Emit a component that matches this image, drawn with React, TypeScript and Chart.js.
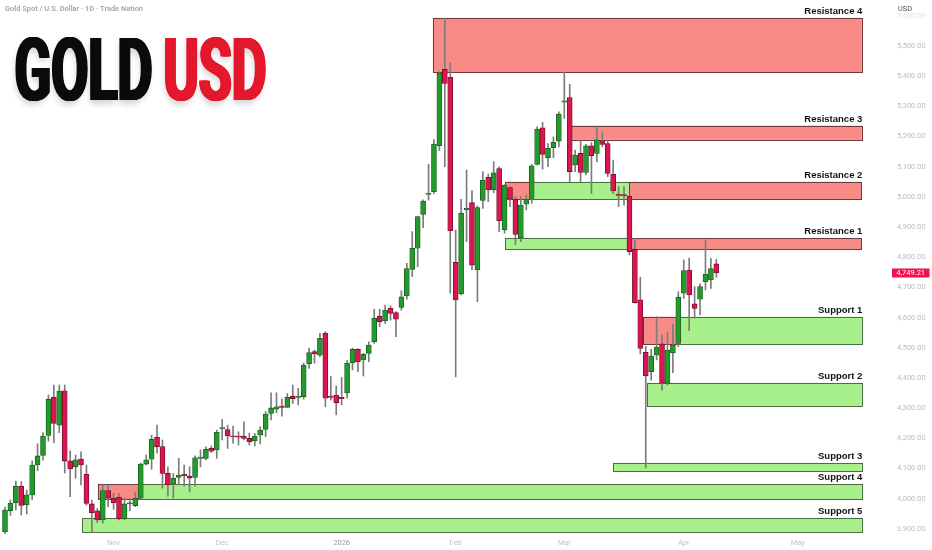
import { useEffect, useRef } from 'react';
import { Chart, registerables } from 'chart.js';

Chart.register(...registerables);

// ---- Daily OHLC (bar index 0 = first visible session, early Oct 2025) ----
const opens = [
  3890, 3961, 3987, 4042, 3980, 4013, 4112, 4144, 4210, 4336, 4244, 4358, 4126, 4106, 4132, 4081, 3983, 3960, 3930, 4027,
  4002, 4005, 3933, 3985, 3977, 4002, 4115, 4131, 4204, 4173, 4084, 4049, 4071, 4079, 4075, 4071, 4134, 4134, 4167, 4162,
  4232, 4229, 4208, 4206, 4208, 4200, 4192, 4211, 4230, 4283, 4297, 4307, 4303, 4340, 4336, 4338, 4447, 4488, 4476, 4548,
  4340, 4344, 4334, 4351, 4451, 4495, 4460, 4482, 4520, 4605, 4590, 4631, 4617, 4634, 4672, 4760, 4830, 4942, 5008, 5017,
  5170, 5423, 5396, 4783, 4679, 4958, 4981, 4759, 4988, 5065, 5024, 5094, 4891, 5031, 4993, 4865, 4976, 4995, 5108, 5229,
  5130, 5163, 5185, 5314, 5329, 5106, 5144, 5081, 5169, 5144, 5185, 5177, 5075, 5007, 5008, 5003, 4826, 4659, 4485, 4421,
  4476, 4513, 4383, 4484, 4515, 4681, 4758, 4646, 4661, 4719, 4725, 4778,
];
const highs = [
  3973, 3996, 4059, 4057, 4029, 4126, 4182, 4219, 4344, 4377, 4377, 4377, 4159, 4145, 4156, 4112, 3996, 3968, 4046, 4046,
  4018, 4018, 4002, 4002, 4023, 4118, 4145, 4211, 4244, 4195, 4106, 4084, 4134, 4112, 4106, 4142, 4162, 4172, 4175, 4228,
  4263, 4244, 4241, 4222, 4255, 4217, 4217, 4239, 4289, 4351, 4351, 4330, 4349, 4377, 4366, 4450, 4499, 4493, 4548, 4554,
  4405, 4374, 4402, 4458, 4499, 4498, 4482, 4520, 4628, 4628, 4642, 4639, 4620, 4689, 4780, 4885, 4935, 4990, 5108, 5190,
  5415, 5592, 5444, 4890, 4992, 5089, 5021, 4970, 5084, 5076, 5117, 5100, 5040, 5034, 5001, 5001, 5006, 5108, 5232, 5247,
  5177, 5199, 5282, 5414, 5373, 5155, 5189, 5174, 5180, 5232, 5216, 5185, 5122, 5034, 5034, 5006, 4863, 4734, 4505, 4495,
  4603, 4543, 4553, 4579, 4686, 4791, 4797, 4703, 4712, 4857, 4797, 4793,
];
const lows = [
  3885, 3945, 3963, 3946, 3950, 3996, 4093, 4128, 4191, 4186, 4219, 4085, 4007, 4068, 4046, 3979, 3889, 3921, 3919, 3974,
  3965, 3930, 3930, 3961, 3974, 3999, 4112, 4098, 4151, 4035, 4009, 4002, 4046, 4042, 4023, 4042, 4106, 4129, 4153, 4134,
  4195, 4167, 4184, 4178, 4195, 4178, 4175, 4182, 4206, 4261, 4285, 4274, 4303, 4316, 4311, 4330, 4432, 4449, 4471, 4305,
  4327, 4278, 4311, 4333, 4427, 4421, 4407, 4454, 4515, 4570, 4581, 4592, 4537, 4625, 4661, 4736, 4769, 4898, 4990, 5011,
  5153, 5100, 4681, 4404, 4675, 4852, 4759, 4653, 4962, 4984, 5014, 4885, 4880, 4968, 4841, 4852, 4957, 4979, 5106, 5092,
  5100, 5130, 5166, 5260, 5050, 5084, 5050, 5073, 5011, 5116, 5166, 5067, 5011, 4968, 4973, 4808, 4648, 4480, 4102, 4393,
  4460, 4360, 4377, 4418, 4504, 4664, 4557, 4598, 4609, 4692, 4697, 4734,
];
const closes = [
  3963, 3985, 4042, 3978, 4013, 4112, 4142, 4208, 4330, 4250, 4357, 4125, 4099, 4129, 4112, 3985, 3954, 3930, 4027, 4002,
  3987, 3933, 3983, 3983, 4002, 4115, 4129, 4197, 4173, 4084, 4046, 4068, 4079, 4077, 4068, 4136, 4138, 4164, 4158, 4220,
  4235, 4208, 4205, 4204, 4200, 4189, 4208, 4228, 4281, 4301, 4305, 4303, 4336, 4332, 4340, 4443, 4484, 4480, 4532, 4333,
  4336, 4318, 4332, 4449, 4495, 4454, 4479, 4509, 4598, 4587, 4625, 4614, 4595, 4669, 4763, 4830, 4935, 4986, 5010, 5175,
  5410, 5376, 4888, 4659, 4946, 4960, 4774, 4965, 5056, 5023, 5080, 4921, 5039, 4993, 4876, 4973, 4993, 5103, 5225, 5141,
  5161, 5181, 5274, 5318, 5084, 5139, 5081, 5169, 5137, 5189, 5174, 5078, 5020, 5005, 5004, 4819, 4650, 4498, 4407, 4473,
  4503, 4383, 4493, 4509, 4667, 4756, 4675, 4631, 4703, 4744, 4763, 4749.21,
];
const lastPrice = 4749.21;

// ---- Axis ticks ----
const monthTickIndex = [20, 40, 62, 83, 103, 125, 146];
const monthTickLabels = ['Nov', 'Dec', '2026', 'Feb', 'Mar', 'Apr', 'May'];
const priceTicks = [3900, 4000, 4100, 4200, 4300, 4400, 4500, 4600, 4700, 4800, 4900, 5000, 5100, 5200, 5300, 5400, 5500, 5600];
const xViewMin = -0.92;
const xViewMax = 159.3;
const yViewMin = 3873.5;
const yViewMax = 5652.3;

// ---- Support / resistance zones ----
const zoneNames = ['Resistance 4', 'Resistance 3', 'Resistance 2', 'Resistance 1', 'Support 1', 'Support 2', 'Support 3', 'Support 4', 'Support 5'];
const zoneLows = [5414, 5189, 4993, 4827, 4513, 4307, 4092, 3999, 3889];
const zoneHighs = [5593, 5236, 5050, 4863, 4603, 4384, 4119, 4048, 3935];
const zoneSegStarts = [[78.8], [104.2], [92.1, 96.7, 115.0], [92.1, 115.0], [117.5, 123.9], [118.2], [112.0], [17.1, 24.7], [14.2]];
const zoneSegKinds = [['R'], ['R'], ['R', 'S', 'R'], ['S', 'R'], ['R', 'S'], ['S'], ['S'], ['R', 'S'], ['S']];
const zoneEndIndex = 157.8;

const fmtPrice = (v: number) => v.toLocaleString('en-US', { minimumFractionDigits: 2, maximumFractionDigits: 2 });

export default function App() {
  const ref = useRef<HTMLCanvasElement>(null);

  useEffect(() => {
    document.body.style.margin = '0';
    const canvas = ref.current;
    if (!canvas) return;

    const idx = opens.map((_, i) => i);
    const up = idx.map((i) => closes[i] >= opens[i]);
    const bodies = idx.map((i) => ({ x: i, y: [opens[i], closes[i]] }));
    const wicks = idx.map((i) => ({ x: i, y: [lows[i], highs[i]] }));

    const overlay = {
      id: 'overlay',
      beforeDatasetsDraw(chart: any) {
        const { ctx, scales } = chart;
        const xs = scales.x;
        const ys = scales.y;
        ctx.save();
        zoneNames.forEach((_, z) => {
          const starts = zoneSegStarts[z];
          const yTop = ys.getPixelForValue(zoneHighs[z]);
          const yBot = ys.getPixelForValue(zoneLows[z]);
          starts.forEach((s, k) => {
            const e = k + 1 < starts.length ? starts[k + 1] : zoneEndIndex;
            const x0 = xs.getPixelForValue(s);
            const x1 = xs.getPixelForValue(e);
            const isR = zoneSegKinds[z][k] === 'R';
            ctx.fillStyle = isR ? '#f98b87' : '#a7f08c';
            ctx.fillRect(x0, yTop, x1 - x0, yBot - yTop);
            ctx.strokeStyle = isR ? '#6e3b3b' : '#4d6b45';
            ctx.lineWidth = 1;
            ctx.strokeRect(Math.round(x0) + 0.5, Math.round(yTop) + 0.5, Math.round(x1 - x0), Math.round(yBot - yTop));
          });
        });
        ctx.restore();
      },
      afterDatasetsDraw(chart: any) {
        const { ctx, scales } = chart;
        const xs = scales.x;
        const ys = scales.y;
        ctx.save();
        ctx.font = 'bold 9.5px "Liberation Sans", Arial, sans-serif';
        ctx.fillStyle = '#131313';
        ctx.textAlign = 'right';
        ctx.textBaseline = 'alphabetic';
        const xr = xs.getPixelForValue(zoneEndIndex) + 0.5;
        zoneNames.forEach((name, z) => {
          const yTop = ys.getPixelForValue(zoneHighs[z]);
          ctx.fillText(name, xr, yTop - 4);
        });
        ctx.restore();
      },
      afterDraw(chart: any) {
        const { ctx, scales } = chart;
        const ys = scales.y;
        ctx.save();
        // subtitle
        ctx.font = '600 7.5px Roboto, sans-serif';
        ctx.fillStyle = '#a3a3a3';
        ctx.textBaseline = 'middle';
        ctx.textAlign = 'left';
        const sub = 'Gold Spot / U.S. Dollar · 1D · Trade Nation';
        const sw = ctx.measureText(sub).width;
        ctx.save();
        ctx.translate(5, 9);
        ctx.scale(138 / sw, 1);
        ctx.fillText(sub, 0, 0);
        ctx.restore();

        // big title
        const drawWord = (word: string, color: string, left: number, width: number) => {
          ctx.save();
          ctx.font = 'bold 87px Roboto, sans-serif';
          ctx.textBaseline = 'alphabetic';
          const extra = 5;
          const w = ctx.measureText(word).width;
          const s = width / (w + extra);
          ctx.translate(left, 100);
          ctx.scale(s, 1);
          ctx.fillStyle = color;
          ctx.shadowColor = 'rgba(0,0,0,0.18)';
          ctx.shadowBlur = 6;
          ctx.shadowOffsetY = 4;
          ctx.fillText(word, 0, 0);
          ctx.shadowColor = 'rgba(0,0,0,0)';
          ctx.shadowBlur = 0;
          ctx.shadowOffsetY = 0;
          for (let o = 1; o <= extra; o++) ctx.fillText(word, o, 0);
          ctx.restore();
        };
        drawWord('GOLD', '#0b0b0b', 13, 141);
        drawWord('USD', '#e3182d', 162, 106);

        // currency label
        ctx.font = '7.5px Roboto, sans-serif';
        ctx.fillStyle = '#555';
        ctx.textAlign = 'left';
        ctx.textBaseline = 'middle';
        ctx.fillText('USD', 898, 9);

        // last price tag
        const yp = ys.getPixelForValue(lastPrice);
        ctx.fillStyle = '#f2114c';
        ctx.fillRect(892, Math.round(yp) - 4.5, 37.5, 9);
        ctx.fillStyle = '#ffffff';
        ctx.textAlign = 'center';
        ctx.font = '7.5px Roboto, sans-serif';
        ctx.fillText(fmtPrice(lastPrice), 910.7, Math.round(yp) + 0.3);
        ctx.restore();
      },
    };

    const chart = new Chart(canvas, {
      type: 'bar',
      data: {
        datasets: [
          {
            label: 'body',
            data: bodies as any,
            backgroundColor: up.map((u) => (u ? '#239b2c' : '#dc1450')),
            borderColor: up.map((u) => (u ? '#1b5a1f' : '#6e0f2a')),
            borderWidth: 0.8,
            borderSkipped: false,
            barThickness: 5,
            minBarLength: 1.2,
            grouped: false,
            order: 0,
          },
          {
            label: 'wick',
            data: wicks as any,
            backgroundColor: '#7c7c7c',
            borderWidth: 0,
            barThickness: 1,
            grouped: false,
            order: 1,
          },
        ],
      },
      options: {
        responsive: false,
        animation: false,
        events: [],
        layout: { padding: 0 },
        plugins: { legend: { display: false }, tooltip: { enabled: false } },
        scales: {
          x: {
            type: 'linear',
            position: 'bottom',
            min: xViewMin,
            max: xViewMax,
            offset: false,
            grid: { display: false, drawTicks: false },
            border: { display: false },
            afterBuildTicks: (scale: any) => {
              scale.ticks = monthTickIndex.map((v) => ({ value: v }));
            },
            afterFit: (scale: any) => {
              scale.height = 13;
              scale.paddingLeft = 0;
              scale.paddingRight = 0;
            },
            ticks: {
              autoSkip: false,
              maxRotation: 0,
              padding: 2,
              font: { family: 'Roboto, sans-serif', size: 7.5 },
              color: (c: any) => (c.tick && c.tick.value === 62 ? '#9a9a9a' : '#c2c2c2'),
              callback: (v: any) => {
                const k = monthTickIndex.indexOf(Number(v));
                return k >= 0 ? monthTickLabels[k] : '';
              },
            },
          },
          y: {
            type: 'linear',
            position: 'right',
            min: yViewMin,
            max: yViewMax,
            grid: { display: false, drawTicks: false },
            border: { display: false },
            afterBuildTicks: (scale: any) => {
              scale.ticks = priceTicks.map((v) => ({ value: v }));
            },
            afterFit: (scale: any) => {
              scale.width = 62;
              scale.paddingTop = 0;
              scale.paddingBottom = 0;
            },
            ticks: {
              autoSkip: false,
              padding: 27,
              font: { family: 'Roboto, sans-serif', size: 7.5 },
              color: (c: any) => (c.tick && c.tick.value === 5600 ? '#e4e4e4' : '#bcbcbc'),
              callback: (v: any) => fmtPrice(Number(v)),
            },
          },
        },
      },
      plugins: [overlay],
    });

    return () => chart.destroy();
  }, []);

  return (
    <div style={{ width: 932, height: 550, position: 'relative', background: '#ffffff' }}>
      <canvas ref={ref} width={932} height={550} style={{ display: 'block' }} />
    </div>
  );
}
